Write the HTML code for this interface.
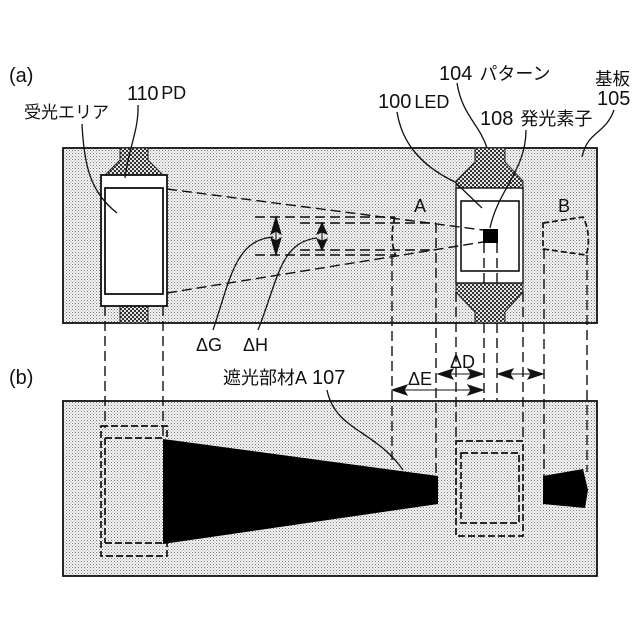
<!DOCTYPE html>
<html><head><meta charset="utf-8"><style>
html,body{margin:0;padding:0;background:#fff;width:640px;height:640px;overflow:hidden}
text{font-family:"Liberation Sans","Noto Sans CJK JP",sans-serif;fill:#111}
</style></head><body>
<svg width="640" height="640" viewBox="0 0 640 640" xmlns="http://www.w3.org/2000/svg">
<defs>
<pattern id="st" width="3" height="3" patternUnits="userSpaceOnUse"><rect width="3" height="3" fill="#f6f6f6"/><rect x="0" y="0" width="1" height="1" fill="#777"/><rect x="1.5" y="1.5" width="1" height="1" fill="#999"/></pattern>
<pattern id="dk" width="4" height="4" patternUnits="userSpaceOnUse"><rect width="4" height="4" fill="#e4e4e4"/><rect x="0" y="0" width="2" height="2" fill="#333"/><rect x="2" y="2" width="2" height="2" fill="#333"/></pattern>
</defs>
<g stroke="#111" stroke-width="1.8">
<rect x="63" y="148" width="534" height="175" fill="url(#st)"/>
<rect x="63" y="401" width="534" height="175" fill="url(#st)"/>
</g>
<!-- patterns -->
<g stroke="#222" stroke-width="1" fill="url(#dk)">
<path d="M120 148H148V160L163 175H105L120 160Z"/>
<rect x="120" y="306" width="28" height="17"/>
<path d="M475 148H505V162L523 181V188H456V181L475 162Z"/>
<path d="M456 283H523V292L505 312V323H475V312L456 292Z"/>
</g>
<!-- PD -->
<rect x="101" y="175" width="66" height="131" fill="#fff" stroke="#111" stroke-width="1.8"/>
<rect x="105" y="188" width="58" height="106" fill="#fff" stroke="#111" stroke-width="1.8"/>
<!-- LED -->
<rect x="456" y="188" width="67" height="95" fill="#fff" stroke="#111" stroke-width="1.4"/>
<rect x="461" y="201" width="58" height="70" fill="#fff" stroke="#111" stroke-width="1.6"/>
<rect x="483" y="229" width="15" height="14" fill="#000"/>
<!-- dashed -->
<g fill="none" stroke="#111" stroke-width="1.4" stroke-dasharray="10 5">
<path d="M167 189L483 230"/>
<path d="M167 293L483 242"/>
<path d="M255 217H395M255 255H395"/>
<path d="M300 223H436M300 250H436"/>
<path d="M395 217C391 230 391 245 396 256" stroke-width="1.7" stroke-dasharray="6 3"/>
<path d="M543 223L583 217C589 228 590 245 586 255L543 249Z" stroke-width="1.7" stroke-dasharray="6 3"/>
<path d="M105 306V428M163 306V440"/>
<path d="M392 256V460M436 223V476"/>
<path d="M456 292V441M523 292V441"/>
<path d="M484 243V283M484 323V401M497 243V283M497 323V401"/>
<path d="M544 249V476M587 255V472"/>
<path d="M101 426H167V556H101Z" stroke-width="1.7" stroke-dasharray="7 3"/>
<path d="M105 438H163M105 543H163M105 438V543" stroke-width="1.7" stroke-dasharray="7 3"/>
<path d="M456 441H523V536H456Z" stroke-width="1.7" stroke-dasharray="7 3"/>
<path d="M461 453H519V523H461Z" stroke-width="1.7" stroke-dasharray="7 3"/>
</g>
<!-- black shields -->
<path d="M163 439L438 476V504L163 544Z" fill="#000"/>
<path d="M543 476L583 469L588 490L585 508L543 504Z" fill="#000"/>
<!-- arrows -->
<g fill="#111" stroke="#111" stroke-width="1">
<path d="M276 217L281 234L276 231L271 234Z"/>
<path d="M276 255L281 238L276 241L271 238Z"/>
<path d="M276 225V247" fill="none"/>
<path d="M322 223L327 234L322 232L317 234Z"/>
<path d="M322 250L327 239L322 241L317 239Z"/>
<path d="M322 230V243" fill="none"/>
<path d="M438 374L453 369L450 374L453 379Z"/>
<path d="M483 374L468 369L471 374L468 379Z"/>
<path d="M445 374H476" fill="none"/>
<path d="M392 390L407 385L404 390L407 395Z"/>
<path d="M483 390L468 385L471 390L468 395Z"/>
<path d="M400 390H476" fill="none"/>
<path d="M498 374L513 369L510 374L513 379Z"/>
<path d="M543 374L528 369L531 374L528 379Z"/>
<path d="M505 374H536" fill="none"/>
</g>
<!-- leaders -->
<g fill="none" stroke="#111" stroke-width="1.3">
<path d="M82 124C84 165 90 192 117 213"/>
<path d="M138 105C139 130 128 150 125 178"/>
<path d="M397 112C403 150 430 170 455 182L482 208"/>
<path d="M457 83C462 115 480 125 487 148"/>
<path d="M526 130C526 170 498 190 490 228"/>
<path d="M614 110C605 135 588 130 582 157"/>
<path d="M213 330C230 280 235 240 273 237"/>
<path d="M258 330C278 280 280 242 317 238"/>
<path d="M327 390C335 430 375 430 403 470"/>
</g>
<!-- labels -->
<g>
<text x="9" y="82" font-size="20">(a)</text>
<text x="9" y="384" font-size="20">(b)</text>
<text x="24" y="118" font-size="17">受光エリア</text>
<text x="127" y="100" font-size="20" letter-spacing="-.2">110<tspan font-size="18" dx="3" dy="-1">PD</tspan></text>
<text x="439" y="80" font-size="20">104<tspan font-size="18" dx="7">パターン</tspan></text>
<text x="378" y="108" font-size="20">100<tspan font-size="18" dx="3">LED</tspan></text>
<text x="480" y="125" font-size="20">108<tspan font-size="18" dx="7">発光素子</tspan></text>
<text x="595" y="85" font-size="17.5">基板</text>
<text x="597" y="105" font-size="20">105</text>
<text x="414" y="212" font-size="18">A</text>
<text x="558" y="212" font-size="18">B</text>
<text x="196" y="351" font-size="18">ΔG</text>
<text x="243" y="351" font-size="18">ΔH</text>
<text x="223" y="384" font-size="18">遮光部材A<tspan font-size="20" dx="5">107</tspan></text>
<text x="450" y="368" font-size="18">ΔD</text>
<text x="408" y="385" font-size="18">ΔE</text>
</g>
</svg>
</body></html>
